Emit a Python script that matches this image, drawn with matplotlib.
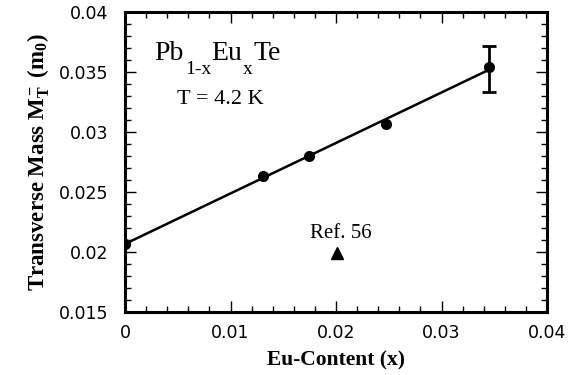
import numpy as np
import matplotlib
matplotlib.use("Agg")
import matplotlib.pyplot as plt
from matplotlib.ticker import MultipleLocator

# Data
eu_content = [0.0, 0.0131, 0.0174, 0.0247, 0.0345]
mass = [0.0207, 0.0263, 0.0280, 0.0307, 0.0354]
err_x = 0.0345
err_lo = 0.0333
err_hi = 0.0372
ref_x = [0.0201]
ref_y = [0.0199]

xticks = [0, 0.01, 0.02, 0.03, 0.04]
xticklabels = ['0', '0.01', '0.02', '0.03', '0.04']
yticks = [0.015, 0.02, 0.025, 0.03, 0.035, 0.04]
yticklabels = ['0.015', '0.02', '0.025', '0.03', '0.035', '0.04']

plt.rcParams['mathtext.fontset'] = 'custom'
plt.rcParams['mathtext.rm'] = 'Liberation Serif'
plt.rcParams['mathtext.it'] = 'Liberation Serif'
plt.rcParams['mathtext.bf'] = 'Liberation Serif:bold'

SERIF = 'Liberation Serif'

fig = plt.figure(figsize=(5.79, 3.75), dpi=100)
ax = fig.add_axes([125 / 579, 1 - 312 / 375, 422 / 579, 300 / 375])

# linear fit through the measured points
p = np.polyfit(eu_content, mass, 1)
xf = np.array([eu_content[0], eu_content[-1]])
ax.plot(xf, np.polyval(p, xf), color='black', lw=1.8)
ax.plot(eu_content, mass, 'o', color='black', ms=7)
ax.errorbar([err_x], [mass[-1]], yerr=[[mass[-1] - err_lo], [err_hi - mass[-1]]],
            fmt='none', ecolor='black', elinewidth=2, capsize=4.7, capthick=2)
ax.plot(ref_x, ref_y, '^', color='black', ms=8)

ax.text(0.0205, 0.0212, 'Ref. 56', ha='center', va='baseline',
        family=SERIF, fontsize=15)

# Pb(1-x)Eu(x)Te with deep subscripts, built piece by piece
sub_drop = -9
t1 = ax.text(0.00275, 0.0360, 'Pb', family=SERIF, fontsize=20,
             va='baseline')
t2 = ax.annotate('1-x', xy=(1, 0), xycoords=t1, xytext=(1, sub_drop),
                 textcoords='offset points', family=SERIF, fontsize=14,
                 va='bottom')
t3 = ax.annotate('Eu', xy=(1, 0), xycoords=(t2, t1), xytext=(0, 0),
                 textcoords='offset points', family=SERIF, fontsize=20,
                 va='bottom')
t4 = ax.annotate('x', xy=(1, 0), xycoords=t3, xytext=(1, sub_drop),
                 textcoords='offset points', family=SERIF, fontsize=14,
                 va='bottom')
ax.annotate('Te', xy=(1, 0), xycoords=(t4, t1), xytext=(0, 0),
            textcoords='offset points', family=SERIF, fontsize=20,
            va='bottom')
ax.text(0.00494, 0.0323, 'T = 4.2 K', family=SERIF, fontsize=16,
        va='baseline')

ax.set_xlim(0, 0.04)
ax.set_ylim(0.015, 0.04)
ax.xaxis.set_minor_locator(MultipleLocator(0.002))
ax.yaxis.set_minor_locator(MultipleLocator(0.001))
ax.set_xticks(xticks)
ax.set_xticklabels(xticklabels)
ax.set_yticks(yticks)
ax.set_yticklabels(yticklabels)

ax.tick_params(which='both', direction='in', top=True, right=True,
               labelsize=12.5, width=1)
ax.tick_params(which='major', length=8)
ax.tick_params(which='minor', length=4)
ax.tick_params(axis='x', pad=9)
ax.tick_params(axis='y', pad=12)
for lab in ax.get_xticklabels() + ax.get_yticklabels():
    lab.set_family('DejaVu Sans')
for s in ax.spines.values():
    s.set_linewidth(2.2)

ax.set_xlabel('Eu-Content (x)', family=SERIF, fontweight='bold',
              fontsize=15.5, labelpad=6)
ax.set_ylabel(r'Transverse Mass $\mathbf{M_T^-}$ $\mathbf{(m_0)}$',
              family=SERIF, fontweight='bold', fontsize=16.5, labelpad=5)

fig.savefig('out.png', dpi=100)
